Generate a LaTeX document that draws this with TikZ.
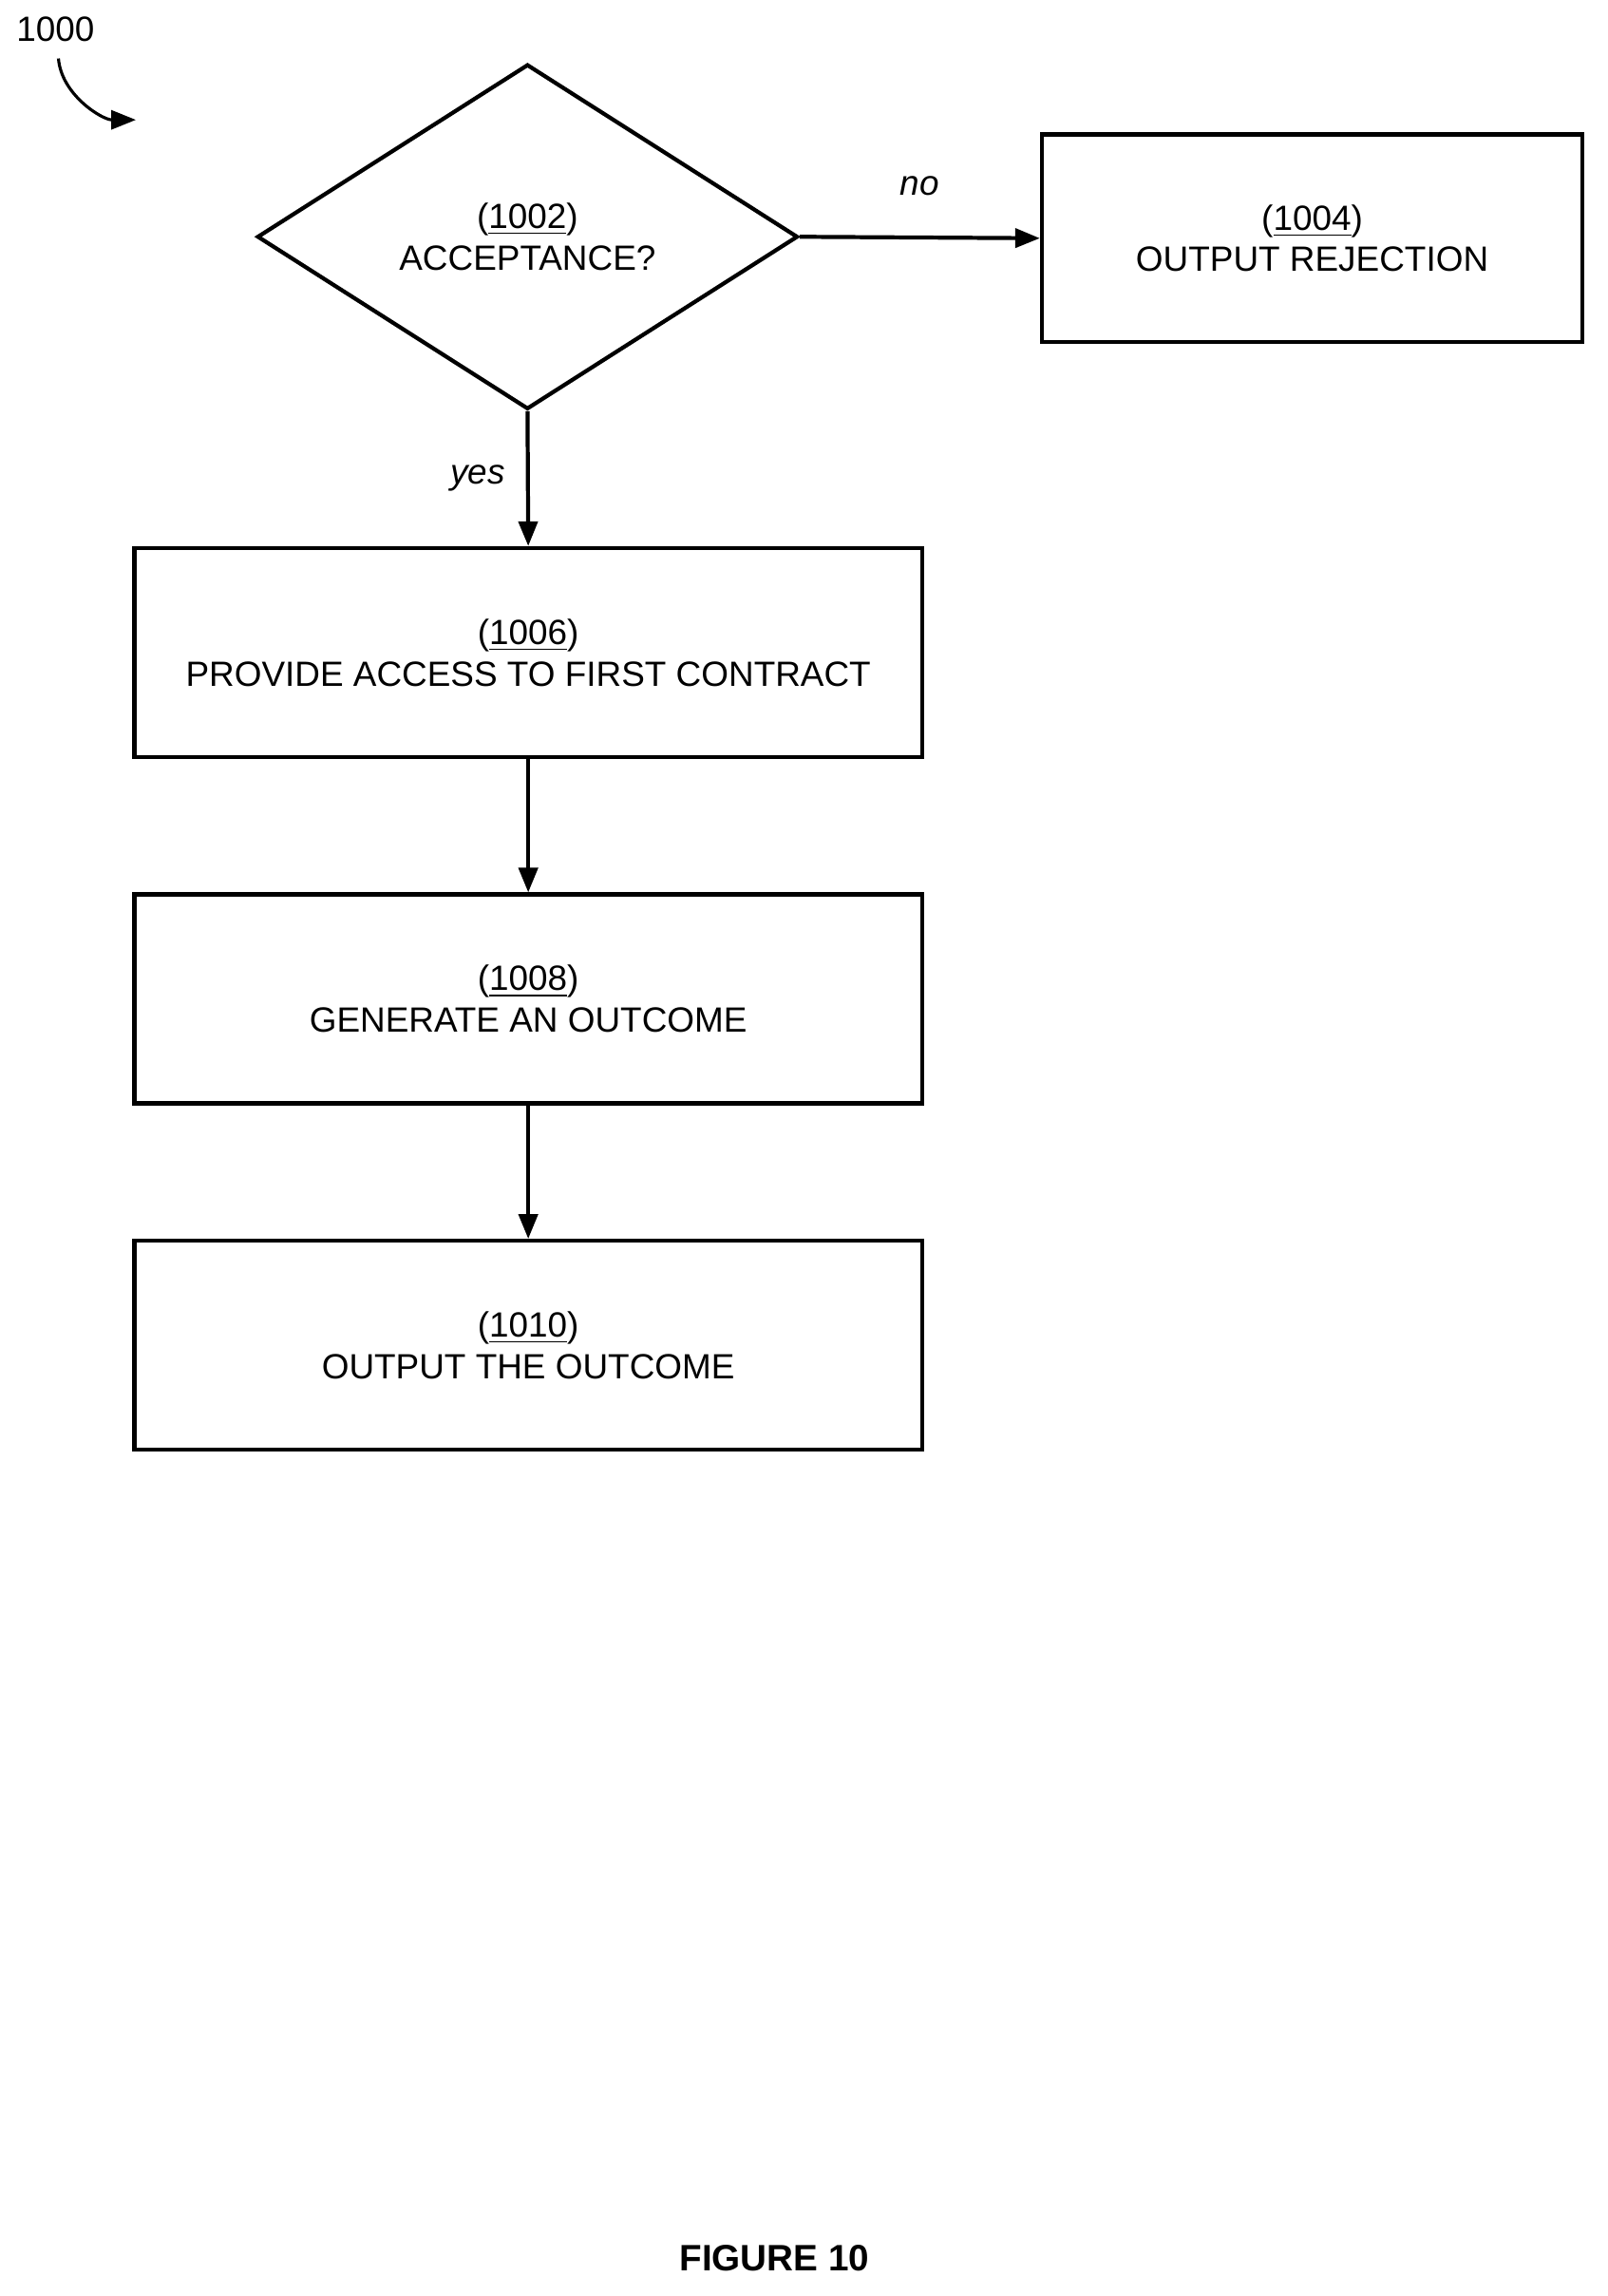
\documentclass[tikz,border=0pt]{standalone}
\usepackage{fontspec}
\setmainfont{Liberation Sans}
\usetikzlibrary{arrows.meta, positioning, shapes.geometric}

\begin{document}
\begin{tikzpicture}[x=0.01538cm, y=-0.01538cm, every node/.style={align=center, font=\fontsize{10.5}{12.5}\selectfont}, >={Triangle[length=2.6mm, width=2mm]}, line width=1.2pt]
        \useasboundingbox (0,0) rectangle (1100,1571);
        \begin{scope}[every node/.style={draw, inner sep=0pt, align=center, font=\fontsize{10.5}{12.5}\selectfont}]
            \node[diamond, minimum width=370*0.01538cm, minimum height=236*0.01538cm] (accept) at (361,162) {(\underline{1002})\\ ACCEPTANCE?};
            \node[minimum width=370*0.01538cm, minimum height=142*0.01538cm] (reject) at (898,163) {(\underline{1004})\\ OUTPUT REJECTION};
            \node[minimum width=539*0.01538cm, minimum height=143*0.01538cm] (access) at (361.5,446.5) {(\underline{1006})\\ PROVIDE ACCESS TO FIRST CONTRACT};
            \node[minimum width=539*0.01538cm, minimum height=143*0.01538cm] (outcome) at (361.5,683.5) {(\underline{1008})\\ GENERATE AN OUTCOME};
            \node[minimum width=539*0.01538cm, minimum height=143*0.01538cm] (output) at (361.5,920.5) {(\underline{1010})\\ OUTPUT THE OUTCOME};
        \end{scope}
        \draw[->] (accept.east) -- node[above=3mm, font=\itshape\fontsize{10.5}{12.5}\selectfont] {no} (reject.west);
        \draw[->] (accept.south) -- node[left=1mm, font=\itshape\fontsize{10.5}{12.5}\selectfont] {yes} (access.north);
        \draw[->] (access) -- (outcome);
        \draw[->] (outcome) -- (output);
        \node (figno) at (38,20) {1000};
        \coordinate (curlstart) at (40,40);
        \coordinate (curlend) at (93,82);
        \draw[->, line width=0.9pt] (curlstart) .. controls (42,65) and (70,82) .. (curlend);
        \node[font=\bfseries\fontsize{11}{13}\selectfont] (caption) at (530,1545) {FIGURE 10};
    \end{tikzpicture}
\end{document}
